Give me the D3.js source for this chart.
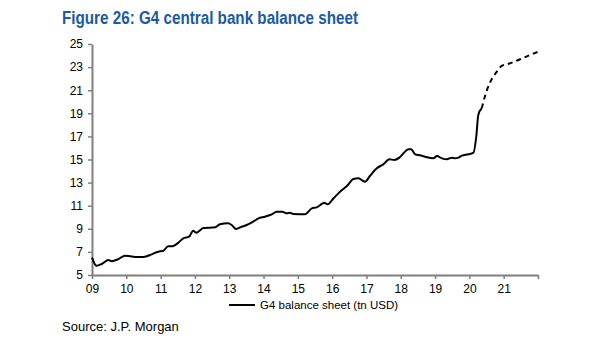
<!DOCTYPE html>
<html>
<head>
<meta charset="utf-8">
<script src="https://cdn.jsdelivr.net/npm/d3@7"></script>
<style>
  body { margin: 0; background: #fff; }
  svg { display: block; font-family: "Liberation Sans", Arial, sans-serif; }
</style>
</head>
<body>
<svg id="chart" width="605" height="341"></svg>
<script>
// G4 balance sheet, tn USD (decimal year, value)
const actualYears = [2009.0, 2009.13, 2009.28, 2009.48, 2009.57, 2009.77, 2009.96, 2010.11, 2010.25, 2010.5,
  2010.74, 2010.93, 2011.08, 2011.22, 2011.34, 2011.52, 2011.66, 2011.83, 2011.95, 2012.03,
  2012.25, 2012.44, 2012.59, 2012.73, 2012.97, 2013.07, 2013.2, 2013.36, 2013.51, 2013.7,
  2013.85, 2014.04, 2014.24, 2014.38, 2014.55, 2014.68, 2014.77, 2014.87, 2015.21, 2015.41,
  2015.55, 2015.7, 2015.77, 2015.87, 2016.04, 2016.23, 2016.43, 2016.62, 2016.77, 2016.86,
  2016.96, 2017.1, 2017.3, 2017.49, 2017.67, 2017.81, 2017.96, 2018.13, 2018.22, 2018.3,
  2018.42, 2018.56, 2018.71, 2018.95, 2019.05, 2019.2, 2019.34, 2019.49, 2019.58, 2019.68,
  2019.78, 2019.97, 2020.12, 2020.2, 2020.26, 2020.36];
const actualValues = [6.5, 5.8, 5.95, 6.3, 6.2, 6.38, 6.67, 6.62, 6.56, 6.56,
  6.79, 7.02, 7.1, 7.5, 7.5, 7.8, 8.18, 8.32, 8.84, 8.66,
  9.06, 9.1, 9.13, 9.39, 9.47, 9.33, 8.98, 9.18, 9.33, 9.62,
  9.9, 10.05, 10.25, 10.48, 10.48, 10.34, 10.4, 10.28, 10.26, 10.77,
  10.86, 11.15, 11.26, 11.12, 11.64, 12.21, 12.7, 13.31, 13.37, 13.22,
  13.08, 13.57, 14.24, 14.58, 15.02, 14.96, 15.16, 15.7, 15.88, 15.88,
  15.45, 15.36, 15.24, 15.1, 15.3, 15.1, 15.02, 15.16, 15.1, 15.16,
  15.33, 15.45, 15.59, 16.97, 18.85, 19.43];

// projection path
const projYears = [2020.36, 2020.41, 2020.51, 2020.65, 2020.8, 2020.94, 2021.19, 2021.48, 2021.77, 2022.0];
const projValues = [19.43, 20.0, 21.0, 21.94, 22.6, 23.1, 23.33, 23.68, 24.05, 24.33];

const yTicks = [5, 7, 9, 11, 13, 15, 17, 19, 21, 23, 25];
const xTicks = [2009, 2010, 2011, 2012, 2013, 2014, 2015, 2016, 2017, 2018, 2019, 2020, 2021, 2022];
const xTickLabels = ["09", "10", "11", "12", "13", "14", "15", "16", "17", "18", "19", "20", "21", ""];

const svg = d3.select("#chart");

const x = d3.scaleLinear().domain([2009, 2022]).range([92, 538]);
const y = d3.scaleLinear().domain([5, 25]).range([275, 44]);

// title, squeezed to a narrow bold face
svg.append("text")
  .attr("x", 62).attr("y", 24)
  .attr("fill", "#1b5aa6")
  .attr("font-size", 18).attr("font-weight", "bold")
  .attr("textLength", 296).attr("lengthAdjust", "spacingAndGlyphs")
  .text("Figure 26: G4 central bank balance sheet");

// y axis
const yAxis = svg.append("g")
  .attr("transform", "translate(92,0)")
  .call(d3.axisLeft(y).tickValues(yTicks).tickSize(4).tickSizeOuter(0).tickPadding(5));

// x axis
const xAxis = svg.append("g")
  .attr("transform", "translate(0,275)")
  .call(d3.axisBottom(x).tickValues(xTicks).tickSize(4).tickSizeOuter(0).tickPadding(5)
    .tickFormat((d, i) => xTickLabels[i]));

[yAxis, xAxis].forEach(a => {
  a.select(".domain").attr("stroke", "#7f7f7f").attr("stroke-width", 2);
  a.selectAll(".tick line").attr("stroke", "#7f7f7f").attr("stroke-width", 1.5);
  a.selectAll(".tick text").attr("fill", "#000").attr("font-size", 12)
    .attr("font-family", "'Liberation Sans', Arial, sans-serif");
});

const line = d3.line()
  .x(d => x(d[0]))
  .y(d => y(d[1]))
  .curve(d3.curveMonotoneX);

svg.append("path")
  .datum(d3.zip(actualYears, actualValues))
  .attr("fill", "none")
  .attr("stroke", "#000")
  .attr("stroke-width", 2)
  .attr("stroke-linejoin", "round")
  .attr("d", line);

svg.append("path")
  .datum(d3.zip(projYears, projValues))
  .attr("fill", "none")
  .attr("stroke", "#000")
  .attr("stroke-width", 2)
  .attr("stroke-dasharray", "5,4")
  .attr("d", line);

// legend
svg.append("line")
  .attr("x1", 229).attr("x2", 255)
  .attr("y1", 305).attr("y2", 305)
  .attr("stroke", "#000").attr("stroke-width", 2);
svg.append("text")
  .attr("x", 260).attr("y", 309)
  .attr("font-size", 11.5).attr("fill", "#000")
  .text("G4 balance sheet (tn USD)");

svg.append("text")
  .attr("x", 62).attr("y", 331)
  .attr("font-size", 13).attr("fill", "#000")
  .text("Source: J.P. Morgan");
</script>
</body>
</html>
